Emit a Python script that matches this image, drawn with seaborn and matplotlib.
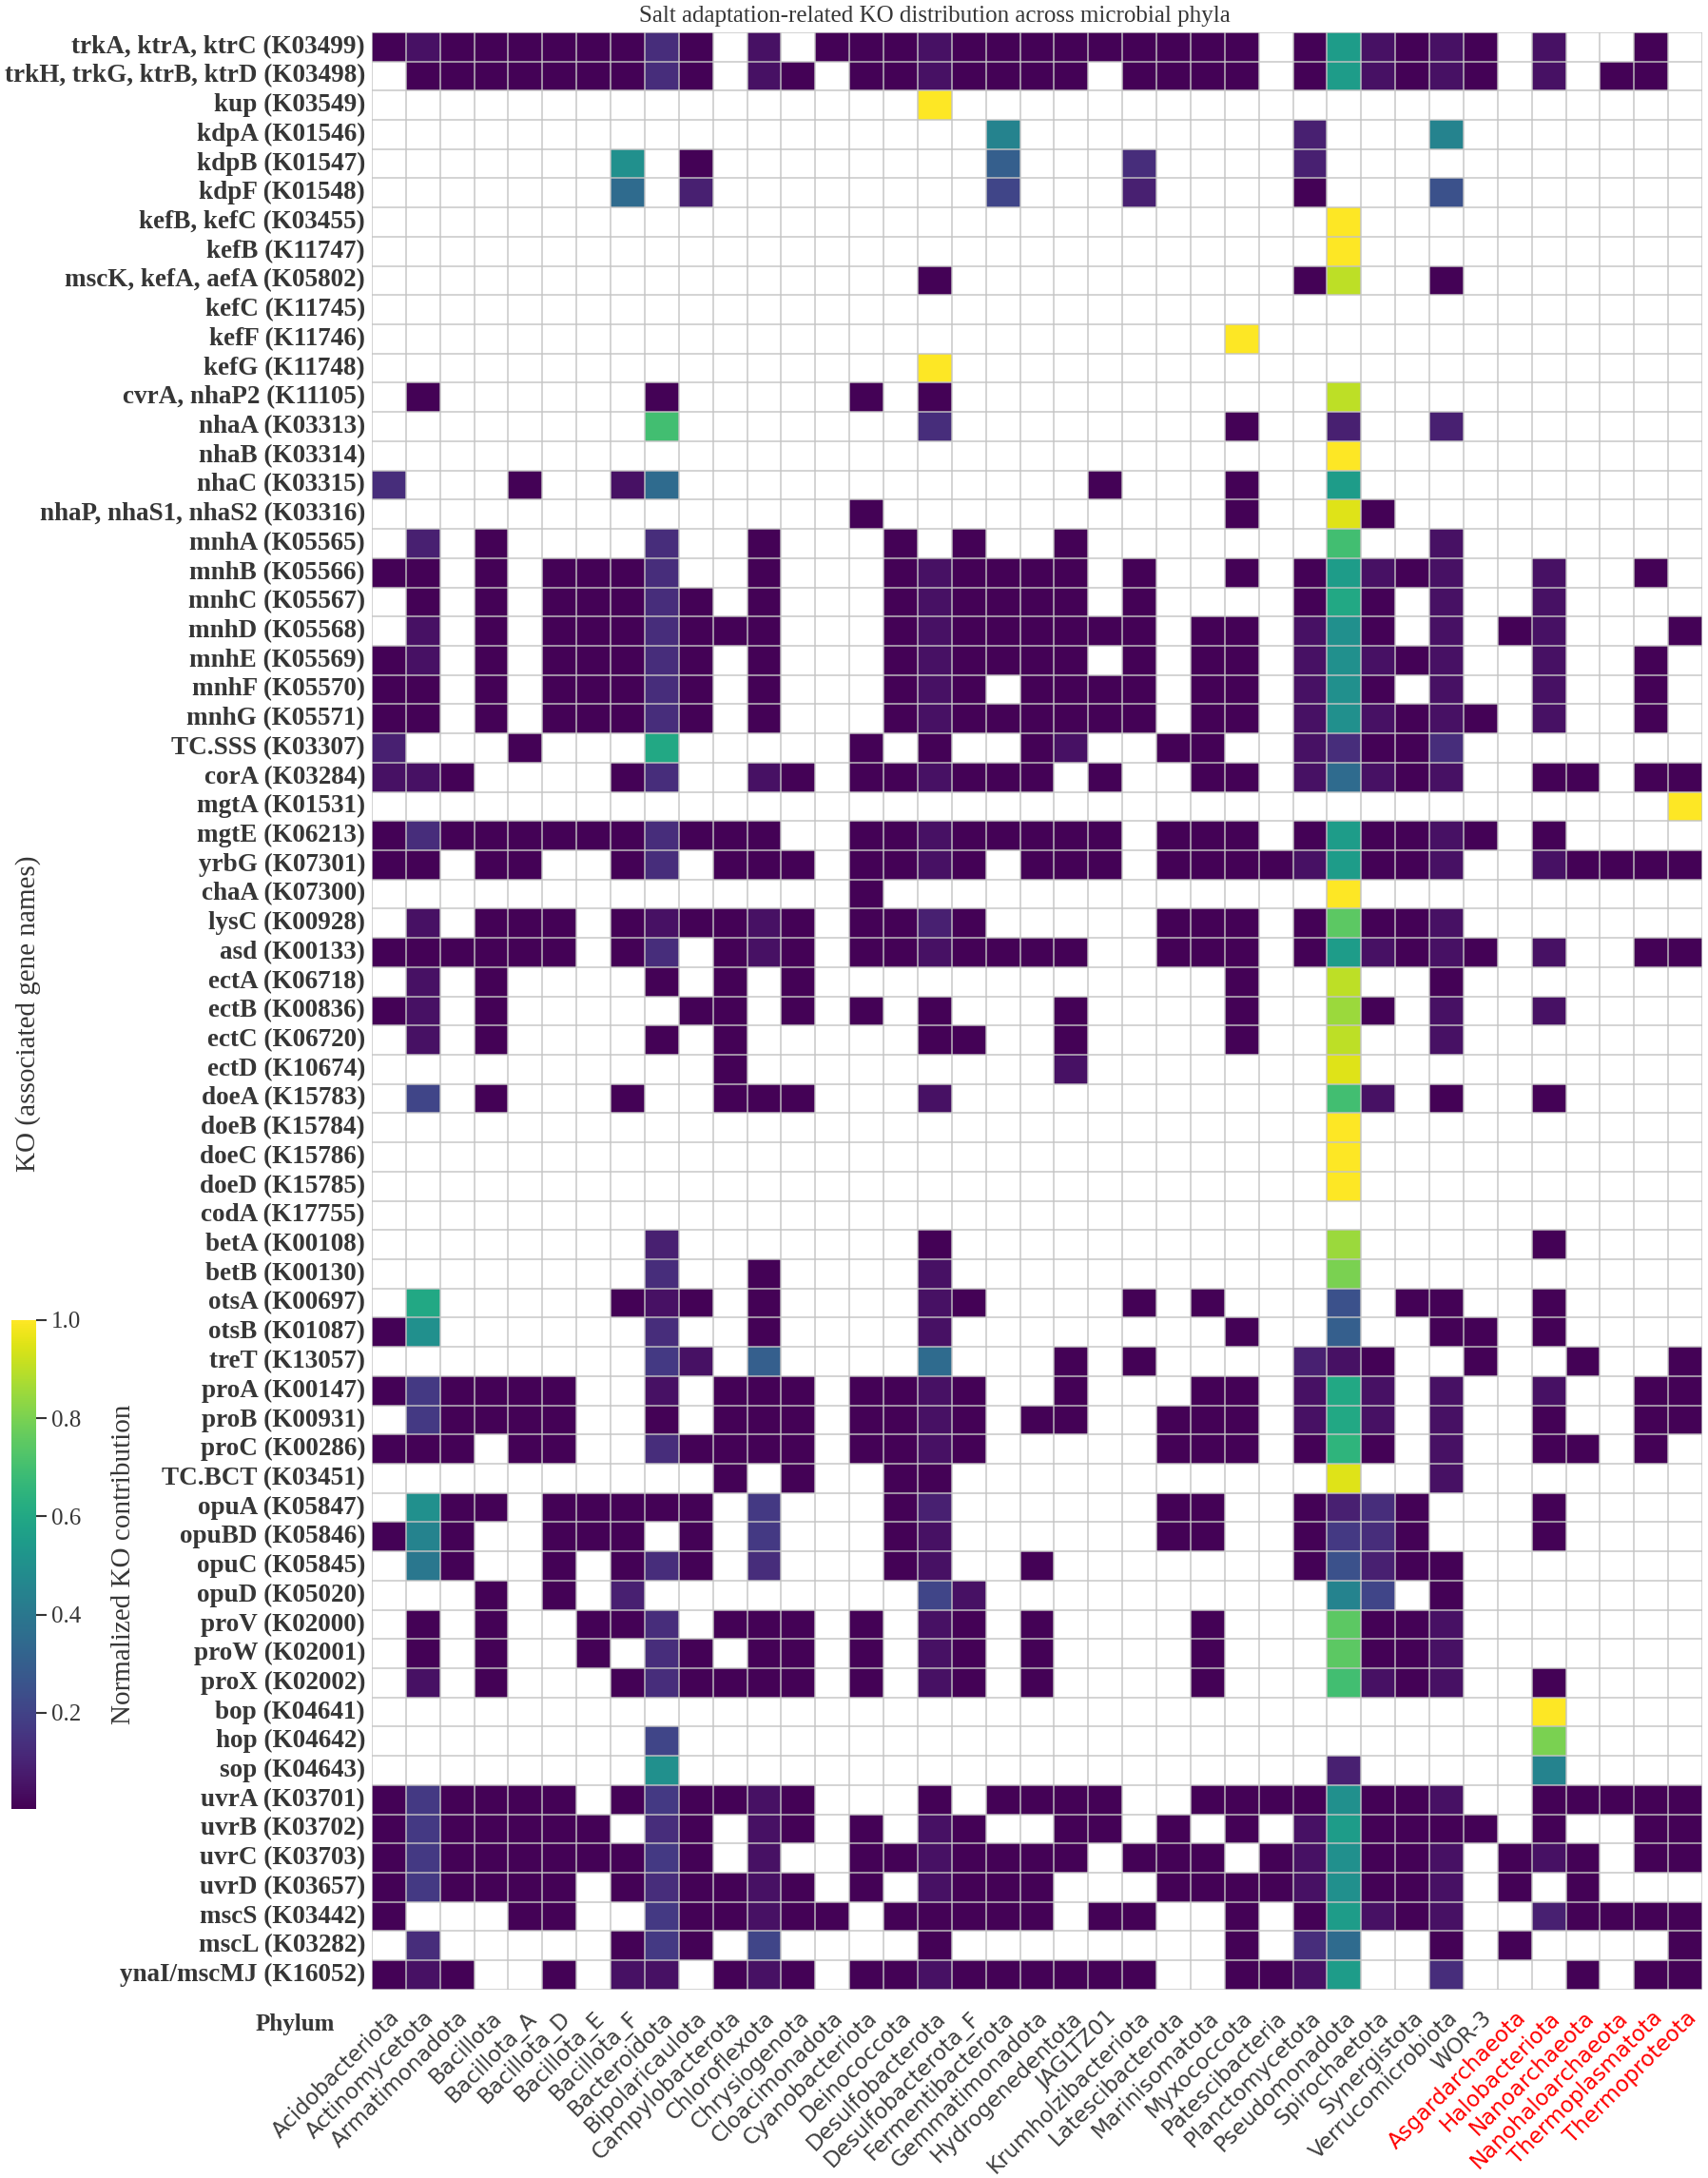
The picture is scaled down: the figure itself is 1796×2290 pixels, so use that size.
import numpy as np
import pandas as pd
import seaborn as sns
import matplotlib.pyplot as plt

sns.set_style("white")

phyla = [
    "Acidobacteriota", "Actinomycetota", "Armatimonadota", "Bacillota",
    "Bacillota_A", "Bacillota_D", "Bacillota_E", "Bacillota_F",
    "Bacteroidota", "Bipolaricaulota", "Campylobacterota", "Chloroflexota",
    "Chrysiogenota", "Cloacimonadota", "Cyanobacteriota", "Deinococcota",
    "Desulfobacterota", "Desulfobacterota_F", "Fermentibacterota",
    "Gemmatimonadota", "Hydrogenedentota", "JAGLTZ01", "Krumholzibacteriota",
    "Latescibacterota", "Marinisomatota", "Myxococcota", "Patescibacteria",
    "Planctomycetota", "Pseudomonadota", "Spirochaetota", "Synergistota",
    "Verrucomicrobiota", "WOR-3", "Asgardarchaeota", "Halobacteriota",
    "Nanoarchaeota", "Nanohaloarchaeota", "Thermoplasmatota", "Thermoproteota",
]
archaea = ["Asgardarchaeota", "Halobacteriota", "Nanoarchaeota",
           "Nanohaloarchaeota", "Thermoplasmatota", "Thermoproteota"]

ko_labels = [
    "trkA, ktrA, ktrC (K03499)", "trkH, trkG, ktrB, ktrD (K03498)",
    "kup (K03549)", "kdpA (K01546)", "kdpB (K01547)", "kdpF (K01548)",
    "kefB, kefC (K03455)", "kefB (K11747)", "mscK, kefA, aefA (K05802)",
    "kefC (K11745)", "kefF (K11746)", "kefG (K11748)",
    "cvrA, nhaP2 (K11105)", "nhaA (K03313)", "nhaB (K03314)",
    "nhaC (K03315)", "nhaP, nhaS1, nhaS2 (K03316)", "mnhA (K05565)",
    "mnhB (K05566)", "mnhC (K05567)", "mnhD (K05568)", "mnhE (K05569)",
    "mnhF (K05570)", "mnhG (K05571)", "TC.SSS (K03307)", "corA (K03284)",
    "mgtA (K01531)", "mgtE (K06213)", "yrbG (K07301)", "chaA (K07300)",
    "lysC (K00928)", "asd (K00133)", "ectA (K06718)", "ectB (K00836)",
    "ectC (K06720)", "ectD (K10674)", "doeA (K15783)", "doeB (K15784)",
    "doeC (K15786)", "doeD (K15785)", "codA (K17755)", "betA (K00108)",
    "betB (K00130)", "otsA (K00697)", "otsB (K01087)", "treT (K13057)",
    "proA (K00147)", "proB (K00931)", "proC (K00286)", "TC.BCT (K03451)",
    "opuA (K05847)", "opuBD (K05846)", "opuC (K05845)", "opuD (K05020)",
    "proV (K02000)", "proW (K02001)", "proX (K02002)", "bop (K04641)",
    "hop (K04642)", "sop (K04643)", "uvrA (K03701)", "uvrB (K03702)",
    "uvrC (K03703)", "uvrD (K03657)", "mscS (K03442)", "mscL (K03282)",
    "ynaI/mscMJ (K16052)",
]

# one letter per cell ('.' = absent)
levels = {
    "a": 0.01, "b": 0.05, "c": 0.09, "d": 0.13, "e": 0.17, "f": 0.21,
    "g": 0.25, "h": 0.30, "i": 0.35, "j": 0.40, "k": 0.45, "l": 0.50,
    "m": 0.55, "n": 0.60, "o": 0.65, "p": 0.70, "q": 0.75, "r": 0.80,
    "s": 0.85, "t": 0.90, "u": 0.95, "v": 1.00,
}

cells = [
    "abaaaaaada|.b.aaabaaa|aaaaaa.amb|aba.b..a.",
    ".aaaaaaada|.ba.aabaaa|a.aaaa.amb|aba.b.aa.",
    "..........|......v...|..........|.........",
    "..........|........k.|.......c..|.k.......",
    ".......l.a|........h.|..d....c..|.........",
    ".......i.c|........f.|..c....a..|.g.......",
    "..........|..........|........v.|.........",
    "..........|..........|........v.|.........",
    "..........|......a...|.......at.|.a.......",
    "..........|..........|..........|.........",
    "..........|..........|.....v....|.........",
    "..........|......v...|..........|.........",
    ".a......a.|....a.a...|........t.|.........",
    "........p.|......d...|.....a..c.|.c.......",
    "..........|..........|........v.|.........",
    "d...a..bi.|..........|.a...a..m.|.........",
    "..........|....a.....|.....a..ua|.........",
    ".c.a....d.|.a...a.a..|a.......p.|.b.......",
    "aa.a.aaad.|.a...abaaa|a.a..a.amb|ab..b..a.",
    ".a.a.aaada|.a...abaaa|a.a....ana|.b..b....",
    ".b.a.aaada|aa...abaaa|aaa.aa.bla|.b.ab...a",
    "ab.a.aaada|.a...abaaa|a.a.aa.blb|ab..b..a.",
    "aa.a.aaada|.a...aba.a|aaa.aa.bla|.b..b..a.",
    "aa.a.aaada|.a...abaaa|aaa.aa.blb|aba.b..a.",
    "c...a...n.|....a.a..a|b..aa..bda|ad.......",
    "bba....ad.|.ba.aabaaa|.a..aa.bib|ab..aa.aa",
    "..........|..........|..........|........v",
    "adaaaaaada|aa..aabaaa|aa.aaa.ama|aba.a....",
    "aa.aa..ad.|aaa.aaba.a|aa.aaaabma|ab..baaaa",
    "..........|....a.....|........v.|.........",
    ".b.aaa.aba|aba.aaca..|...aaa.aqa|ab.......",
    "aaaaaa.ad.|aba.aabaaa|a..aaa.amb|aba.b..aa",
    ".b.a....a.|a.a.......|.....a..t.|.a.......",
    "ab.a.....a|a.a.a.a...|a....a..sa|.b..b....",
    ".b.a....a.|a.....aa..|a....a..t.|.b.......",
    "..........|a.........|b.......u.|.........",
    ".f.a...a..|aaa...b...|........pb|.a..a....",
    "..........|..........|........v.|.........",
    "..........|..........|........v.|.........",
    "..........|..........|........v.|.........",
    "..........|..........|..........|.........",
    "........c.|......a...|........s.|....a....",
    "........d.|.a....b...|........r.|.........",
    ".n.....aba|.a....ba..|..a.a...g.|aa..a....",
    "al......d.|.a....b...|.....a..h.|.aa.a....",
    "........eb|.h....i...|a.a....cba|..a..a..a",
    "aeaaaa..b.|aaa.aaba..|a...aa.bnb|.b..b..aa",
    ".eaaaa..a.|aaa.aaba.a|a..aaa.bnb|.b..a..aa",
    "aaa.aa..da|aaa.aaba..|...aaa.aoa|.b..aa.a.",
    "..........|a.a..aa...|........u.|.b.......",
    ".laa.aaaaa|.e...ac...|...aa..acd|a...a....",
    "aka..aaa.a|.e...ab...|...aa..aed|a...a....",
    ".ja..a.ada|.d...ab..a|.......agc|aa.......",
    "...a.a.c..|......fb..|........kf|.a.......",
    ".a.a..aad.|aaa.a.ba.a|....a...qa|ab.......",
    ".a.a..a.da|.aa.a.ba.a|....a...qa|ab.......",
    ".b.a...ada|aaa.a.ba.a|....a...pb|ab..a....",
    "..........|..........|..........|....v....",
    "........f.|..........|..........|....r....",
    "........l.|..........|........c.|....k....",
    "aeaaaa.aea|aba...a.aa|aa..aaaala|ab..aaaaa",
    "aeaaaaa.da|.ba.a.ba..|aa.a.a.bma|aaa.a..aa",
    "aeaaaaaaea|.b..aabaaa|a.aaa.abla|ab.aba.aa",
    "aeaaaa.ada|aba.a.baaa|...aaaabla|ab.a.a...",
    "a...aa..ea|abaa.aaaaa|.aa..a.amb|ab..caaaa",
    ".d.....aea|.f....a...|.....a.di.|.a.a....a",
    "aba..a.bb.|aba.aabaaa|aaa..aabm.|.d...a.aa",
]

grey = "#363636"


def build_table():
    rows = []
    for row in cells:
        rows.append([levels.get(ch, np.nan) for ch in row.replace("|", "")])
    return pd.DataFrame(rows, index=ko_labels, columns=phyla)


def main():
    data = build_table()

    fig = plt.figure(figsize=(17.96, 22.90), dpi=100)
    ax = fig.add_axes([0.2177, 0.0865, 0.7790, 0.8987])
    cax = fig.add_axes([0.0067, 0.1694, 0.0145, 0.2245])

    sns.heatmap(data, ax=ax, cbar_ax=cax, cmap="viridis",
                vmin=0.004, vmax=1.0, linewidths=0)

    # light cell grid over the whole matrix
    ax.set_xticks(np.arange(len(phyla) + 1), minor=True)
    ax.set_yticks(np.arange(len(ko_labels) + 1), minor=True)
    ax.grid(which="minor", color="#c4c4c4", linewidth=1.3, alpha=0.8)
    ax.grid(which="major", visible=False)
    ax.set_axisbelow(False)
    ax.tick_params(which="minor", length=0)
    ax.tick_params(axis="x", which="major", length=0, pad=13)
    ax.tick_params(axis="y", which="major", length=0, pad=5)

    ax.set_xticklabels(phyla, rotation=45, ha="right", va="top",
                       rotation_mode="anchor", fontsize=16.5,
                       family="DejaVu Sans", color="#404040")
    for lab in ax.get_xticklabels():
        if lab.get_text() in archaea:
            lab.set_color("red")
    ax.set_yticklabels(ko_labels, rotation=0, fontsize=19.5,
                       fontweight="bold", family="Liberation Serif",
                       color=grey)
    ax.set_xlabel("")
    ax.set_ylabel("")

    cbar = ax.collections[0].colorbar
    cbar.outline.set_visible(False)
    cax.tick_params(labelsize=18, length=8, width=1.5, color=grey,
                    labelcolor=grey)
    for lab in cax.get_yticklabels():
        lab.set_family("Liberation Serif")

    fig.text(130 / 1796, 1 - 1645 / 2290, "Normalized KO contribution",
             rotation=90, ha="center", va="center", fontsize=21,
             family="Liberation Serif", color=grey)
    fig.text(30 / 1796, 1 - 1066 / 2290, "KO (associated gene names)",
             rotation=90, ha="center", va="center", fontsize=21,
             family="Liberation Serif", color=grey)
    fig.text(352 / 1796, 1 - 2128 / 2290, "Phylum", ha="right",
             va="center", fontsize=18, fontweight="bold",
             family="Liberation Serif", color=grey)
    fig.text(983 / 1796, 1 - 17 / 2290,
             "Salt adaptation-related KO distribution across microbial phyla",
             ha="center", va="center", fontsize=18,
             family="Liberation Serif", color=grey)

    fig.savefig("out.png", dpi=100)


if __name__ == "__main__":
    main()
